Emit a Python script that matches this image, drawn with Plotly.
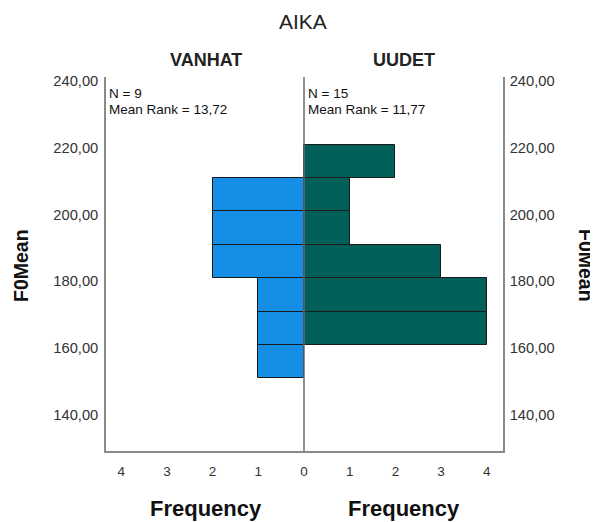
import plotly.graph_objects as go

# Data
bin_centers = [155, 165, 175, 185, 195, 205, 215]
vanhat_freq = [1, 1, 1, 2, 2, 2, 0]
uudet_freq = [0, 4, 4, 3, 1, 1, 2]
bin_width = 10
group_names = ["VANHAT", "UUDET"]
group_n = [9, 15]
mean_ranks = ["13,72", "11,77"]
y_ticks = [140, 160, 180, 200, 220, 240]
x_ticks_left = [0, 1, 2, 3, 4]
x_ticks_right = [1, 2, 3, 4]

# page body has an 8px margin; figure sized to fill the rest of the window
OFF = 8
W, H = 590, 514
L, R, T, B = 98, 95, 69, 71
PW, PH = W - L - R, H - T - B
split = (304 - OFF - L) / PW


def px(page_x):
    return (page_x - OFF - L) / PW


def py(page_y):
    return (H - B - (page_y - OFF)) / PH


blue = "#168ee6"
teal = "#02605b"
axis_col = "#8a8a8a"
font_fam = "Liberation Sans, Arial, sans-serif"

fig = go.Figure()
fig.add_trace(go.Bar(
    y=bin_centers, x=vanhat_freq, orientation="h", width=bin_width,
    marker=dict(color=blue, line=dict(color="#1a1a1a", width=1)),
    xaxis="x", yaxis="y", showlegend=False, hoverinfo="skip"))
fig.add_trace(go.Bar(
    y=bin_centers, x=uudet_freq, orientation="h", width=bin_width,
    marker=dict(color=teal, line=dict(color="#1a1a1a", width=1)),
    xaxis="x2", yaxis="y2", showlegend=False, hoverinfo="skip"))

yrange = [128.2, 240.3]
xl = (304 - 106) / 45.7
xr = (503 - 304) / 45.7
xtickfont = dict(family=font_fam, size=13.5, color="#333333")
ytickfont = dict(family=font_fam, size=14.7, color="#333333")

fig.update_layout(
    width=W, height=H,
    margin=dict(l=L, r=R, t=T, b=B),
    paper_bgcolor="white", plot_bgcolor="white",
    separators=",.",
    bargap=0,
    xaxis=dict(domain=[0, split], range=[xl, 0], tickvals=x_ticks_left,
               showgrid=False, zeroline=False, showline=True, linecolor=axis_col,
               linewidth=1.5, ticks="", tickfont=xtickfont, ticklabelstandoff=7,
               fixedrange=True),
    xaxis2=dict(domain=[split, 1], range=[0, xr], tickvals=x_ticks_right,
                showgrid=False, zeroline=False, showline=True, linecolor=axis_col,
                linewidth=1.5, ticks="", tickfont=xtickfont, ticklabelstandoff=7,
                fixedrange=True),
    yaxis=dict(range=yrange, tickvals=y_ticks, tickformat=".2f", side="left",
               anchor="x", showgrid=False, zeroline=False, showline=True,
               linecolor=axis_col, linewidth=1.5, ticks="", tickfont=ytickfont,
               ticklabelstandoff=3, ticklabelshift=3, fixedrange=True),
    yaxis2=dict(range=yrange, tickvals=y_ticks, tickformat=".2f", side="right",
                anchor="x2", showgrid=False, zeroline=False,
                showline=True, linecolor=axis_col, linewidth=1.5, ticks="",
                tickfont=ytickfont, ticklabelstandoff=2, ticklabelshift=3,
                fixedrange=True),
)

# center divider line
fig.add_shape(type="line", xref="paper", yref="paper", x0=split, x1=split,
              y0=0, y1=1, line=dict(color="#6a6a6a", width=1.5), layer="above")


def text(t, x, y, size, bold=False, xanchor="center", angle=0, color="#111111"):
    return dict(text=("<b>%s</b>" % t) if bold else t, x=px(x), y=py(y),
                xref="paper", yref="paper", xanchor=xanchor, yanchor="middle",
                showarrow=False, textangle=angle,
                font=dict(family=font_fam, size=size, color=color))


ann = [text("AIKA", 303, 21, 21, color="#222222")]
title_x = [206, 404]
stat_x = [107, 306]
for i, name in enumerate(group_names):
    ann.append(text(name, title_x[i], 60, 18, bold=True, color="#222222"))
    ann.append(text("N = %d" % group_n[i], stat_x[i], 94, 13.5, xanchor="left"))
    ann.append(text("Mean Rank = %s" % mean_ranks[i], stat_x[i], 109.5, 13.5,
                    xanchor="left"))
    ann.append(text("Frequency", title_x[i], 508, 22, bold=True))
ann.append(text("F0Mean", 21, 266, 19.5, bold=True, angle=-90))
ann.append(text("F0Mean", 586, 265, 19.5, bold=True, angle=90))
fig.update_layout(annotations=ann)

fig.write_html("out.html")
